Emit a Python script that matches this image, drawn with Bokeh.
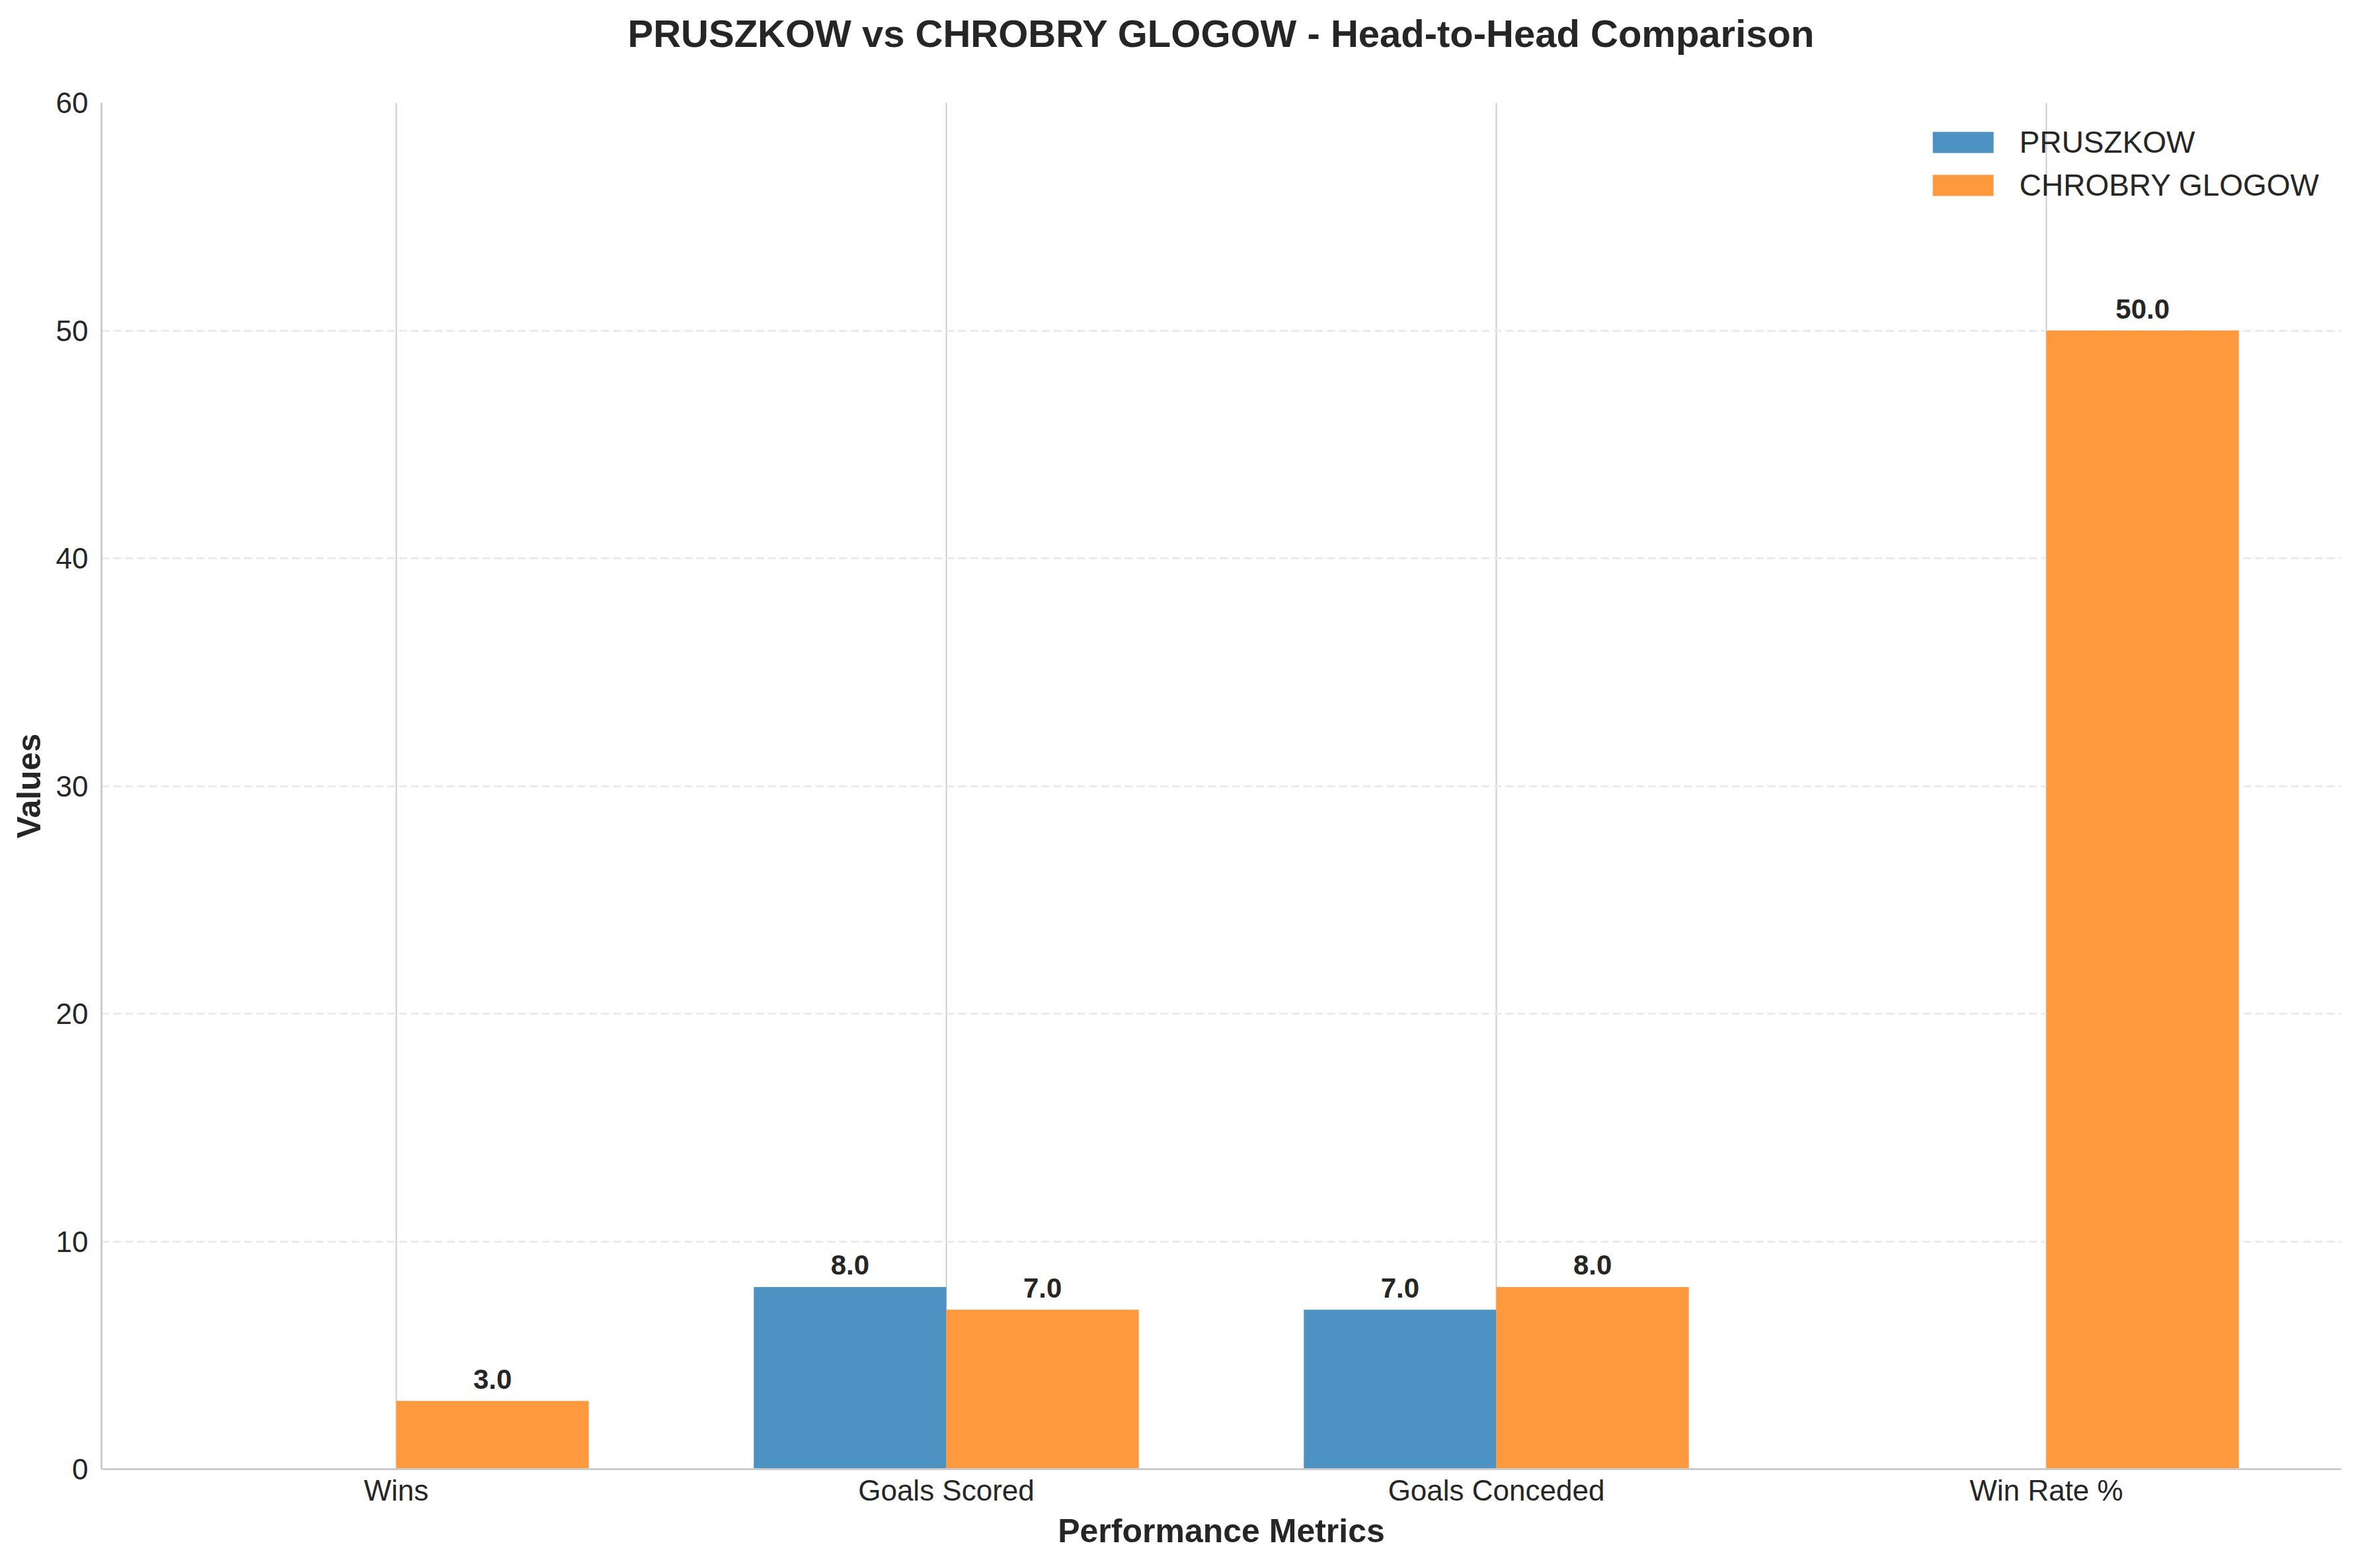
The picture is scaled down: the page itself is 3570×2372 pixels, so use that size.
import numpy as np
from bokeh.plotting import figure
from bokeh.models import ColumnDataSource, Range1d, FixedTicker, Legend, LegendItem, Title
from bokeh.transform import dodge
from bokeh.core.properties import value
from bokeh.embed import file_html
from bokeh.resources import INLINE

categories = ["Wins", "Goals Scored", "Goals Conceded", "Win Rate %"]
pruszkow = [0.0, 8.0, 7.0, 0.0]
chrobry = [3.0, 7.0, 8.0, 50.0]
team_names = ["PRUSZKOW", "CHROBRY GLOGOW"]
y_ticks = [0, 10, 20, 30, 40, 50, 60]
title_text = "PRUSZKOW vs CHROBRY GLOGOW - Head-to-Head Comparison"

FONT = "Liberation Sans"
TXT = "#262626"
BLUE = "#4C92C3"
ORANGE = "#FF993E"
BW = 0.35

idx = list(range(len(categories)))
src = ColumnDataSource(dict(idx=idx, a=pruszkow, b=chrobry))

p = figure(width=3570, height=2372, output_backend="svg", toolbar_location=None, title=None,
           x_range=Range1d(-0.536, 3.536), y_range=Range1d(0, 60),
           min_border_left=153, min_border_right=29, min_border_top=155, min_border_bottom=150)

# spacer (closest to the frame), then the real title further out
p.add_layout(Title(text=" ", text_font_size="10px", standoff=45), "above")
p.add_layout(Title(text=title_text, align="center", text_font=FONT, text_font_size="58px",
                   text_font_style="bold", text_color=TXT, standoff=30), "above")

r1 = p.vbar(x=dodge("idx", -BW / 2, range=p.x_range), top="a", width=BW, source=src,
            fill_color=BLUE, line_color=None)
r2 = p.vbar(x=dodge("idx", BW / 2, range=p.x_range), top="b", width=BW, source=src,
            fill_color=ORANGE, line_color=None)

# value labels for non-zero bars
lx, ly, lt = [], [], []
for i in idx:
    if pruszkow[i] > 0:
        lx.append(i - BW / 2); ly.append(pruszkow[i]); lt.append(f"{pruszkow[i]:.1f}")
    if chrobry[i] > 0:
        lx.append(i + BW / 2); ly.append(chrobry[i]); lt.append(f"{chrobry[i]:.1f}")
lsrc = ColumnDataSource(dict(x=lx, y=ly, t=lt))
p.text(x="x", y="y", text="t", source=lsrc, text_align="center", text_baseline="alphabetic",
       y_offset=-33, text_font=value(FONT), text_font_size="42px", text_font_style="bold",
       text_color=TXT)

# axes
p.xaxis.ticker = FixedTicker(ticks=idx)
p.xaxis.major_label_overrides = {i: c for i, c in zip(idx, categories)}
p.yaxis.ticker = FixedTicker(ticks=y_ticks)
for ax in (p.xaxis, p.yaxis):
    ax.axis_line_color = "#cccccc"
    ax.axis_line_width = 3
    ax.major_tick_line_color = None
    ax.minor_tick_line_color = None
    ax.major_tick_out = 0
    ax.major_tick_in = 0
    ax.minor_tick_out = 0
    ax.minor_tick_in = 0
    ax.major_label_text_font = FONT
    ax.major_label_text_font_size = "44px"
    ax.major_label_text_color = TXT
    ax.axis_label_text_font = FONT
    ax.axis_label_text_font_size = "50px"
    ax.axis_label_text_font_style = "bold"
    ax.axis_label_text_color = TXT
p.xaxis.axis_label = "Performance Metrics"
p.yaxis.axis_label = "Values"
p.xaxis.major_label_standoff = 7
p.xaxis.axis_label_standoff = 6
p.yaxis.major_label_standoff = 20
p.yaxis.axis_label_standoff = 10

p.xgrid.grid_line_color = "#cccccc"
p.xgrid.grid_line_width = 2
p.ygrid.grid_line_color = "#ebebeb"
p.ygrid.grid_line_width = 3
p.ygrid.grid_line_dash = "12 6"
p.outline_line_color = None

legend = Legend(items=[LegendItem(label=team_names[0], renderers=[r1]),
                       LegendItem(label=team_names[1], renderers=[r2])],
                location="top_right", margin=33, padding=0,
                glyph_width=115, glyph_height=40, label_height=40, label_standoff=28,
                spacing=11, border_line_color=None, background_fill_alpha=0,
                label_text_font=FONT, label_text_font_size="46px", label_text_color=TXT)
p.add_layout(legend, "center")

open("out.html", "w").write(file_html(p, INLINE))
